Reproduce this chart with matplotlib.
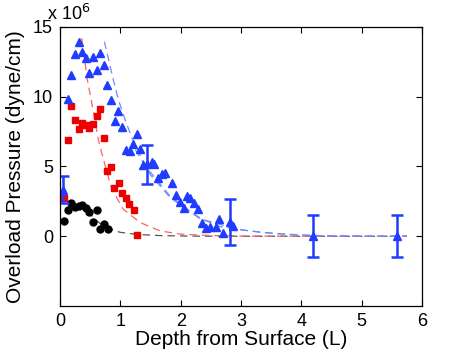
import matplotlib
matplotlib.use("Agg")
import matplotlib.pyplot as plt

# values in units of 10^6 dyne/cm
black_x = [0.066, 0.13, 0.19, 0.25, 0.315, 0.37, 0.43, 0.486, 0.547, 0.61, 0.66, 0.73, 0.79]
black_y = [1.12, 1.9, 2.4, 2.1, 2.17, 2.26, 2.05, 1.76, 1.02, 1.88, 0.55, 0.9, 0.5]

red_x = [0.066, 0.127, 0.18, 0.25, 0.31, 0.37, 0.43, 0.486, 0.547, 0.61, 0.67, 0.73,
         0.785, 0.85, 0.90, 0.97, 1.03, 1.09, 1.15, 1.22, 1.27]
red_y = [2.76, 6.93, 9.33, 8.33, 7.69, 8.14, 8.0, 7.74, 8.02, 8.6, 9.14, 7.02,
         4.66, 4.98, 3.43, 3.79, 3.1, 2.74, 2.33, 1.86, 0.12]

blue_x = [0.127, 0.18, 0.25, 0.315, 0.36, 0.43, 0.486, 0.55, 0.61, 0.67, 0.73, 0.785,
          0.85, 0.91, 0.967, 1.03, 1.09, 1.155, 1.21, 1.27, 1.33, 1.38, 1.52, 1.56,
          1.63, 1.69, 1.74, 1.86, 1.93, 1.99, 2.05, 2.10, 2.16, 2.22, 2.29, 2.35,
          2.42, 2.49, 2.58, 2.64, 2.71, 2.87]
blue_y = [9.83, 11.55, 13.05, 13.95, 13.2, 12.76, 11.69, 12.83, 11.95, 13.16, 12.24, 10.86,
          9.74, 8.26, 8.95, 7.83, 6.21, 6.09, 6.64, 7.31, 6.28, 5.12, 5.33, 5.16,
          4.21, 4.43, 4.55, 3.79, 2.98, 2.48, 2.0, 2.88, 2.74, 2.41, 1.93, 0.93,
          0.59, 0.69, 0.69, 1.21, 0.21, 0.74]

err_x = [0.05, 1.44, 2.82, 4.2, 5.59]
err_y = [3.35, 5.15, 1.0, 0.0, 0.0]
err_e = [1.0, 1.4, 1.64, 1.52, 1.52]

# dashed fit curves
fit_black_x = [0.45, 0.5, 0.6, 0.7, 0.8, 1.0, 1.3, 1.7, 2.2, 3.0, 5.75]
fit_black_y = [1.8, 1.6, 1.15, 0.8, 0.55, 0.28, 0.12, 0.04, 0.01, 0.0, 0.0]

fit_red_x = [0.36, 0.45, 0.55, 0.635, 0.72, 0.857, 1.05, 1.33, 1.66, 2.0, 2.5, 3.0, 4.0, 5.75]
fit_red_y = [14.2, 11.3, 9.0, 6.93, 5.5, 3.4, 1.93, 0.98, 0.38, 0.15, 0.05, 0.01, 0.0, 0.0]

fit_blue_x = [0.735, 0.80, 0.885, 0.967, 1.08, 1.19, 1.44, 1.82, 2.32, 2.65, 2.93, 3.37,
              3.92, 4.48, 5.0, 5.75]
fit_blue_y = [13.95, 12.76, 11.2, 9.79, 8.36, 7.05, 4.9, 2.9, 1.25, 0.86, 0.5, 0.26,
              0.1, 0.02, 0.0, 0.0]

fit_blue2_x = [1.25, 1.5, 1.8, 2.1, 2.4, 2.65, 3.15, 3.6, 4.2, 5.0, 5.75]
fit_blue2_y = [6.2, 4.4, 2.9, 1.85, 1.15, 0.69, 0.38, 0.18, 0.05, 0.0, 0.0]

BLUE = "#1f3cff"
RED = "#ee0000"

plt.rcParams["font.family"] = ["Liberation Sans", "DejaVu Sans"]

fig = plt.figure(figsize=(4.67, 3.52), dpi=100)
ax = fig.add_axes([0.1285, 0.1307, 0.775, 0.7926])

ax.plot(fit_black_x, fit_black_y, "--", color="#555555", lw=0.9, dashes=(6, 4))
ax.plot(fit_red_x, fit_red_y, "--", color="#ff6060", lw=0.9, dashes=(6, 4))
ax.plot(fit_blue_x, fit_blue_y, "--", color="#7088ff", lw=0.9, dashes=(6, 4))
ax.plot(fit_blue2_x, fit_blue2_y, "--", color="#7088ff", lw=0.9, dashes=(6, 4))

ax.plot(black_x, black_y, "o", color="black", ms=5, mec="black")
ax.plot(red_x, red_y, "s", color=RED, ms=4, mec=RED)
ax.plot(blue_x, blue_y, "^", color=BLUE, ms=5.5, mec=BLUE)
ax.errorbar(err_x, err_y, yerr=err_e, fmt="^", color=BLUE, ms=6, lw=1.8,
            capsize=4, capthick=1.8)

ax.set_xlim(0, 6)
ax.set_ylim(-5, 15)
ax.set_xticks([0, 1, 2, 3, 4, 5, 6])
ax.set_yticks([0, 5, 10, 15])
ax.tick_params(direction="in", top=True, right=True, length=4, labelsize=13, pad=5)
for s in ax.spines.values():
    s.set_linewidth(0.9)

ax.set_xlabel("Depth from Surface (L)", fontsize=15, labelpad=0)
ax.set_ylabel("Overload Pressure (dyne/cm)", fontsize=15, labelpad=6)
ax.text(-0.035, 1.01, r"x 10$^{6}$", transform=ax.transAxes, fontsize=13,
        ha="left", va="bottom")

fig.savefig("out.png", dpi=100)
